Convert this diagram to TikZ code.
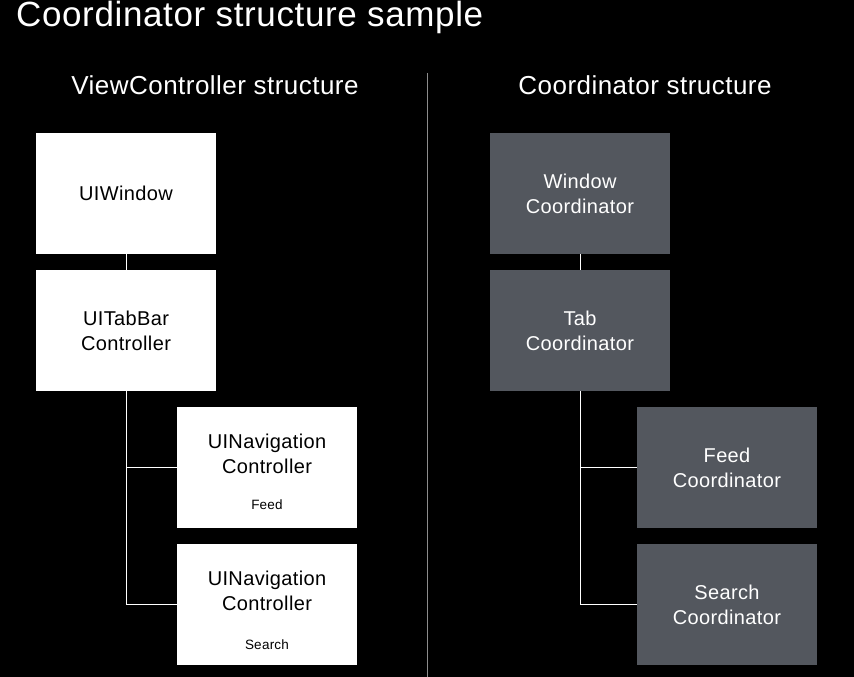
\documentclass[tikz,border=0pt]{standalone}
\usepackage{fontspec}
\setmainfont[LetterSpace=1.8]{Liberation Sans}
\definecolor{coordgray}{HTML}{53575E}
\definecolor{divgray}{HTML}{8C8C8C}
\tikzset{
	vcbox/.style={fill=white, text=black, minimum width=180pt, minimum height=121pt, inner sep=0pt, align=center, font=\fontsize{20}{25}\selectfont},
	cobox/.style={vcbox, fill=coordgray, text=white},
	tag/.style={text=black, inner sep=0pt, font=\fontsize{13.5}{16}\selectfont},
	link/.style={draw=white, line width=1pt},
}
\begin{document}
\begin{tikzpicture}[x=1pt,y=-1pt]
			\fill[black] (0,0) rectangle (854,677);
			\useasboundingbox (0,0) rectangle (854,677);
			
			\node[anchor=base west, text=white, inner sep=0pt, font=\fontsize{35}{40}\selectfont] (title) at (16,27) {Coordinator structure sample};
			\node[anchor=base, text=white, inner sep=0pt, font=\fontsize{26}{30}\selectfont] (vchead) at (215,94) {ViewController structure};
			\node[anchor=base, text=white, inner sep=0pt, font=\fontsize{26}{30}\selectfont] (cohead) at (645,94) {Coordinator structure};
			
			\coordinate (divtop) at (427,73);
			\coordinate (divbot) at (427,677);
			\draw[divgray, line width=1pt] (divtop) -- (divbot);
			
			% view controllers
			\node[vcbox] (window) at (126,193.5) {UIWindow};
			\node[vcbox] (tabbar) at (126,330.5) {UITabBar\\Controller};
			\node[vcbox] (feednav) at (267,467.5) {};
			\node[vcbox] (searchnav) at (267,604.5) {};
			\node[align=center, inner sep=0pt, font=\fontsize{20}{25}\selectfont] (feednavtext) at ([yshift=14pt]feednav.center) {UINavigation\\Controller};
			\node[tag] (feedtag) at ([yshift=-37pt]feednav.center) {Feed};
			\node[align=center, inner sep=0pt, font=\fontsize{20}{25}\selectfont] (searchnavtext) at ([yshift=14pt]searchnav.center) {UINavigation\\Controller};
			\node[tag] (searchtag) at ([yshift=-40pt]searchnav.center) {Search};
			
			\draw[link] (window) -- (tabbar);
			\draw[link] (tabbar.south) |- (feednav.west);
			\draw[link] (tabbar.south) |- (searchnav.west);
			
			% coordinators
			\node[cobox] (windowco) at (580,193.5) {Window\\Coordinator};
			\node[cobox] (tabco) at (580,330.5) {Tab\\Coordinator};
			\node[cobox] (feedco) at (727,467.5) {Feed\\Coordinator};
			\node[cobox] (searchco) at (727,604.5) {Search\\Coordinator};
			
			\draw[link] (windowco) -- (tabco);
			\draw[link] (tabco.south) |- (feedco.west);
			\draw[link] (tabco.south) |- (searchco.west);
\end{tikzpicture}
\end{document}
